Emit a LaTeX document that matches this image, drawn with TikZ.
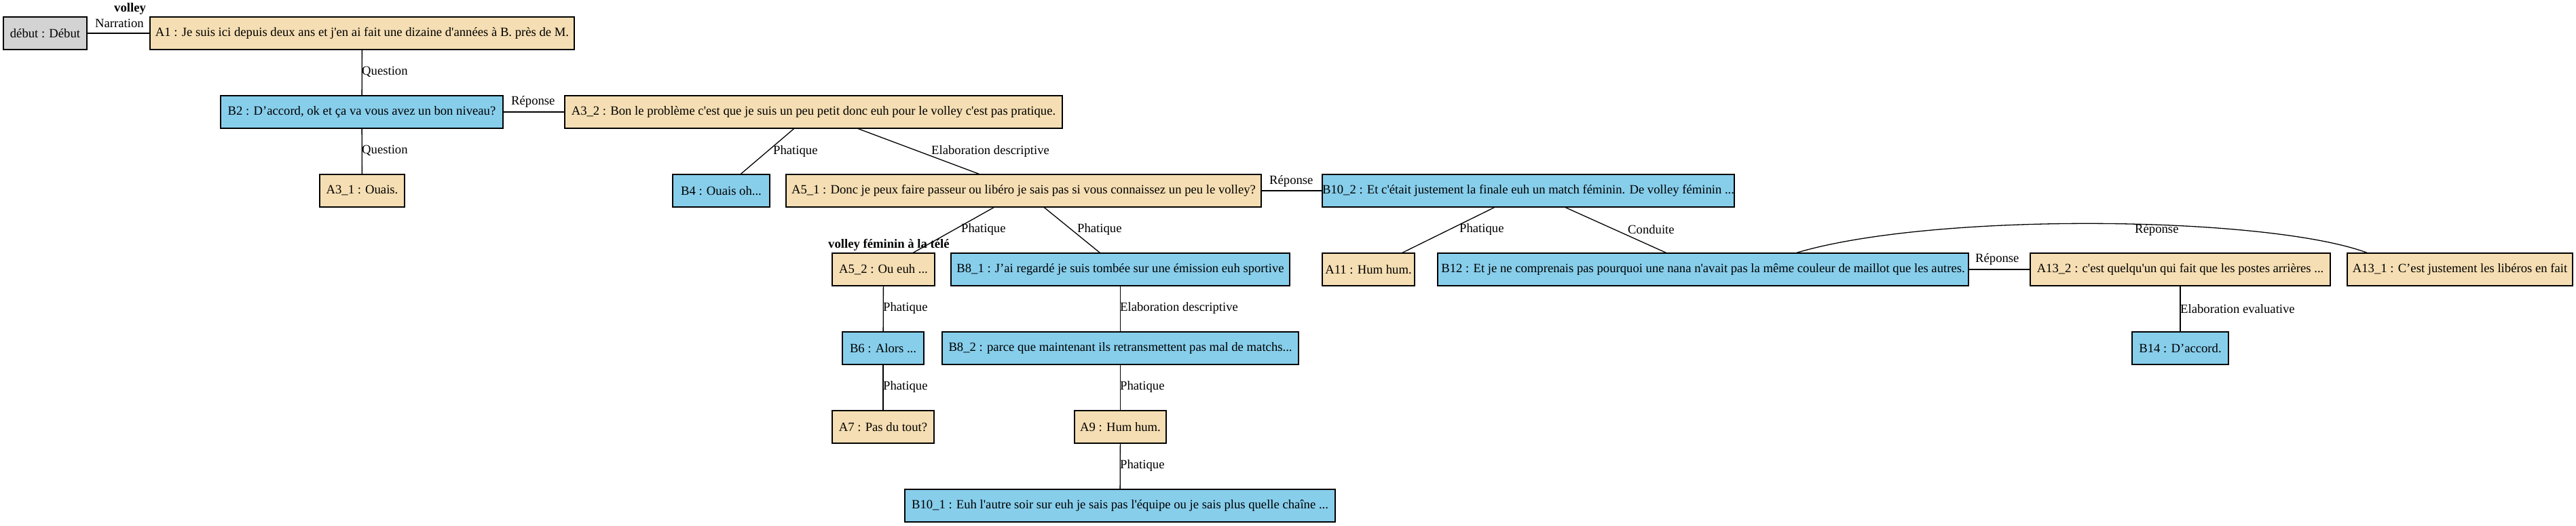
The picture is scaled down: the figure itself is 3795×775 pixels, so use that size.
\documentclass[tikz,border=0pt]{standalone}
\usepackage{fontspec}
\newfontfamily\diagfont{Liberation Serif}
\usetikzlibrary{calc}
\definecolor{tanfill}{HTML}{F5DEB3}
\definecolor{bluefill}{HTML}{87CEEB}
\definecolor{grayfill}{HTML}{D3D3D3}
\tikzset{
  box/.style={draw=black, line width=1.3pt, inner sep=0pt, minimum height=48pt, align=center,
    font=\diagfont\fontsize{18.67}{22}\selectfont},
  tanbox/.style={box, fill=tanfill},
  bluebox/.style={box, fill=bluefill},
  graybox/.style={box, fill=grayfill},
  lbl/.style={anchor=west, inner sep=0pt, font=\diagfont\fontsize{18.67}{22}\selectfont},
  topic/.style={anchor=west, inner sep=0pt, font=\diagfont\bfseries\fontsize{18.67}{22}\selectfont},
  edge/.style={draw=black, line width=1.3pt}
}
\begin{document}
\begin{tikzpicture}[x=1pt,y=-1pt]
\useasboundingbox (0,0) rectangle (3795,775);
% nodes
\node[graybox, minimum width=123pt] (debut) at (66.5,49) {début : Début};
\node[tanbox, minimum width=625pt] (A1) at (533.5,49) {A1 : Je suis ici depuis deux ans et j'en ai fait une dizaine d'années à B. près de M.};
\node[bluebox, minimum width=416pt] (B2) at (533,165) {B2 : D’accord, ok et ça va vous avez un bon niveau?};
\node[tanbox, minimum width=733pt] (A32) at (1198.5,165) {A3\_2 : Bon le problème c'est que je suis un peu petit donc euh pour le volley c'est pas pratique.};
\node[tanbox, minimum width=125pt] (A31) at (533.5,281) {A3\_1 : Ouais.};
\node[bluebox, minimum width=143pt] (B4) at (1062.5,281) {B4 : Ouais oh...};
\node[tanbox, minimum width=700pt] (A51) at (1508,281) {A5\_1 : Donc je peux faire passeur ou libéro je sais pas si vous connaissez un peu le volley?};
\node[bluebox, minimum width=607pt] (B102) at (2251.5,281) {B10\_2 : Et c'était justement la finale euh un match féminin. De volley féminin ...};
\node[tanbox, minimum width=151pt] (A52) at (1301.5,397) {A5\_2 : Ou euh ...};
\node[bluebox, minimum width=499pt] (B81) at (1650.5,397) {B8\_1 : J’ai regardé je suis tombée sur une émission euh sportive};
\node[tanbox, minimum width=136pt] (A11) at (2016,397) {A11 : Hum hum.};
\node[bluebox, minimum width=782pt] (B12) at (2509,397) {B12 : Et je ne comprenais pas pourquoi une nana n'avait pas la même couleur de maillot que les autres.};
\node[tanbox, minimum width=442pt] (A132) at (3212,397) {A13\_2 : c'est quelqu'un qui fait que les postes arrières ...};
\node[tanbox, minimum width=332pt] (A131) at (3624,397) {A13\_1 : C’est justement les libéros en fait};
\node[bluebox, minimum width=120pt] (B6) at (1301,513) {B6 : Alors ...};
\node[bluebox, minimum width=525pt] (B82) at (1650.5,513) {B8\_2 : parce que maintenant ils retransmettent pas mal de matchs...};
\node[bluebox, minimum width=142pt] (B14) at (3212,513) {B14 : D’accord.};
\node[tanbox, minimum width=150pt] (A7) at (1301,629) {A7 : Pas du tout?};
\node[tanbox, minimum width=135pt] (A9) at (1650.5,629) {A9 : Hum hum.};
\node[bluebox, minimum width=634pt] (B101) at (1650,745) {B10\_1 : Euh l'autre soir sur euh je sais pas l'équipe ou je sais plus quelle chaîne ...};
% topic labels
\node[topic] (t1) at (168,13) {volley};
\node[topic] (t2) at (1220,361) {volley féminin à la télé};
% edges
\draw[edge] (debut) -- (A1);
\draw[edge] (A1) -- (B2);
\draw[edge] (B2) -- (A32);
\draw[edge] (B2) -- (A31);
\draw[edge] (A32) -- (B4);
\draw[edge] (A32) -- (A51);
\draw[edge] (A51) -- (B102);
\draw[edge] (A51) -- (A52);
\draw[edge] (A51) -- (B81);
\draw[edge] (B102) -- (A11);
\draw[edge] (B102) -- (B12);
\draw[edge] (B12) -- (A132);
\draw[edge] ([xshift=138pt]B12.north) .. controls (2850,312) and (3340,318) .. ([xshift=-137pt]A131.north);
\draw[edge] (A52) -- (B6);
\draw[edge] (B81) -- (B82);
\draw[edge] (B6) -- (A7);
\draw[edge] (B82) -- (A9);
\draw[edge] (A9) -- (B101);
\draw[edge] (A132) -- (B14);
% edge labels
\node[lbl] (l1) at (140,34) {Narration};
\node[lbl] (l2) at (533,106) {Question};
\node[lbl] (l3) at (753,150) {Réponse};
\node[lbl] (l4) at (533,222) {Question};
\node[lbl] (l5) at (1139,223) {Phatique};
\node[lbl] (l6) at (1372,223) {Elaboration descriptive};
\node[lbl] (l7) at (1870,267) {Réponse};
\node[lbl] (l8) at (1416,338) {Phatique};
\node[lbl] (l9) at (1587,338) {Phatique};
\node[lbl] (l10) at (2150,338) {Phatique};
\node[lbl] (l11) at (2398,338) {Conduite};
\node[lbl] (l12) at (2910,382) {Réponse};
\node[lbl] (l13) at (3145,339) {Réponse};
\node[lbl] (l14) at (1301,454) {Phatique};
\node[lbl] (l15) at (1650,454) {Elaboration descriptive};
\node[lbl] (l16) at (3212,455) {Elaboration evaluative};
\node[lbl] (l17) at (1301,570) {Phatique};
\node[lbl] (l18) at (1650,570) {Phatique};
\node[lbl] (l19) at (1650,686) {Phatique};
\end{tikzpicture}
\end{document}
